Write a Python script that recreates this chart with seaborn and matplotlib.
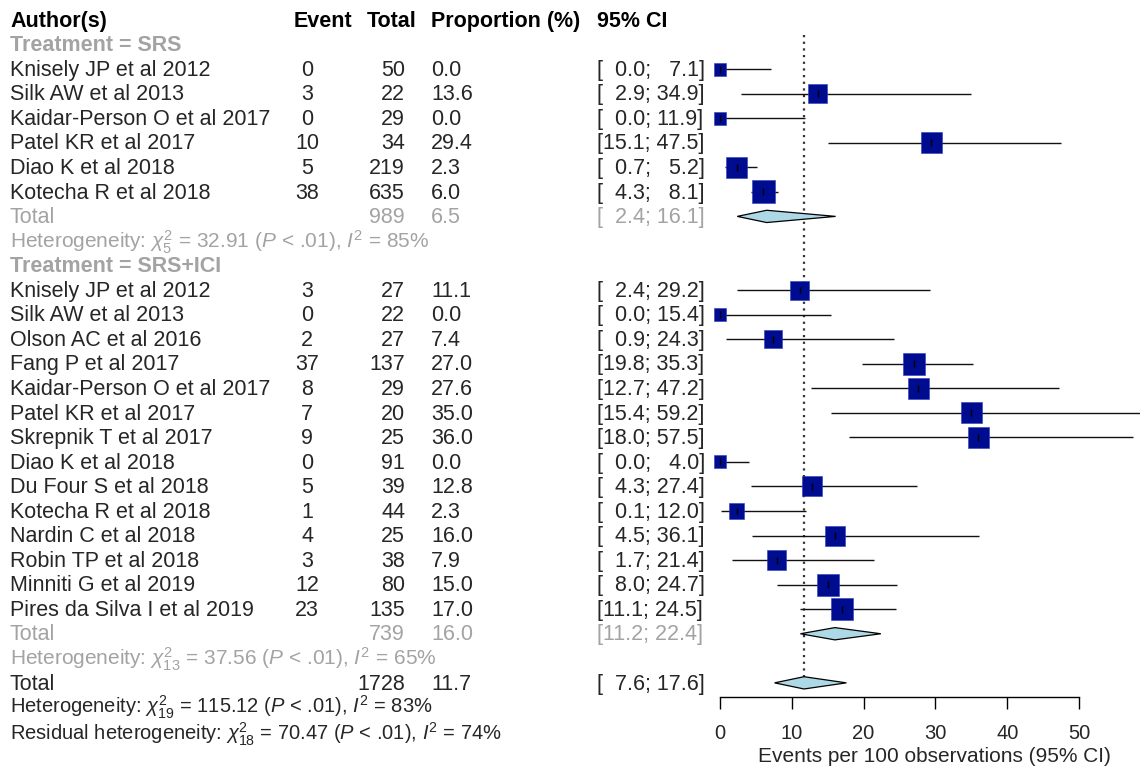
import matplotlib
matplotlib.use("Agg")
import matplotlib.pyplot as plt
import matplotlib.transforms as mtransforms
import seaborn as sns
import pandas as pd

# study level data
studies = ["Knisely JP et al 2012", "Silk AW et al 2013", "Kaidar-Person O et al 2017",
           "Patel KR et al 2017", "Diao K et al 2018", "Kotecha R et al 2018",
           "Knisely JP et al 2012", "Silk AW et al 2013", "Olson AC et al 2016",
           "Fang P et al 2017", "Kaidar-Person O et al 2017", "Patel KR et al 2017",
           "Skrepnik T et al 2017", "Diao K et al 2018", "Du Four S et al 2018",
           "Kotecha R et al 2018", "Nardin C et al 2018", "Robin TP et al 2018",
           "Minniti G et al 2019", "Pires da Silva I et al 2019"]
groups = ["SRS"] * 6 + ["SRS+ICI"] * 14
events = [0, 3, 0, 10, 5, 38, 3, 0, 2, 37, 8, 7, 9, 0, 5, 1, 4, 3, 12, 23]
totals = [50, 22, 29, 34, 219, 635, 27, 22, 27, 137, 29, 20, 25, 91, 39, 44, 25, 38, 80, 135]
props = [0.0, 13.6, 0.0, 29.4, 2.3, 6.0, 11.1, 0.0, 7.4, 27.0, 27.6, 35.0, 36.0, 0.0,
         12.8, 2.3, 16.0, 7.9, 15.0, 17.0]
lowers = [0.0, 2.9, 0.0, 15.1, 0.7, 4.3, 2.4, 0.0, 0.9, 19.8, 12.7, 15.4, 18.0, 0.0,
          4.3, 0.1, 4.5, 1.7, 8.0, 11.1]
uppers = [7.1, 34.9, 11.9, 47.5, 5.2, 8.1, 29.2, 15.4, 24.3, 35.3, 47.2, 59.2, 57.5, 4.0,
          27.4, 12.0, 36.1, 21.4, 24.7, 24.5]
# random effects weights (%) estimated from the square sizes
weights = [2.3, 4.9, 2.3, 6.0, 6.0, 7.2, 4.9, 2.3, 4.4, 6.6, 6.0, 6.0, 6.0, 2.3,
           5.5, 3.3, 5.5, 5.2, 6.6, 6.6]

# subgroup summaries
sub_names = ["SRS", "SRS+ICI"]
sub_totals = [989, 739]
sub_props = [6.5, 16.0]
sub_lowers = [2.4, 11.2]
sub_uppers = [16.1, 22.4]
sub_chi2 = [32.91, 37.56]
sub_df = [5, 13]
sub_i2 = [85, 65]

# overall
all_total = 1728
all_prop = 11.7
all_lower = 7.6
all_upper = 17.6
het_chi2, het_df, het_i2 = 115.12, 19, 83
res_chi2, res_df, res_i2 = 70.47, 18, 74

sns.set_theme(style="white")
plt.rcParams["font.family"] = ["Liberation Sans", "DejaVu Sans"]
plt.rcParams["mathtext.fontset"] = "custom"
plt.rcParams["mathtext.rm"] = "Liberation Sans"
plt.rcParams["mathtext.it"] = "Liberation Sans:italic"
plt.rcParams["mathtext.bf"] = "Liberation Sans:bold"

W, H = 1140, 768
fig = plt.figure(figsize=(W / 100, H / 100), dpi=100)

# row geometry in pixels
row0, drow = 20, 24.55
px0, pxscale = 720, 7.18          # x value 0 at pixel 720, 7.18 px per unit
ax_left_px, ax_right_px, ax_bottom_px = 700, 1140, 697
ax = fig.add_axes([ax_left_px / W, 1 - ax_bottom_px / H,
                   (ax_right_px - ax_left_px) / W, ax_bottom_px / H])
ax.set_xlim((ax_left_px - px0) / pxscale, (ax_right_px - px0) / pxscale)
ax.set_ylim((ax_bottom_px - row0) / drow, -row0 / drow)

tr = mtransforms.blended_transform_factory(fig.transFigure, ax.transData)
FS = 15.5
FS_HET = 14.5
GRAY = "#a3a3a3"
BLUE = "#000c8f"


def fx(px):
    return px / W


def ci_str(lo, hi):
    return f"[{lo:4.1f}; {hi:4.1f}]".replace(" ", "\u2007").replace(";\u2007", "; ")


def txt(px, row, s, **kw):
    kw.setdefault("fontsize", FS)
    kw.setdefault("va", "center")
    ax.text(fx(px), row + 0.05, s, transform=tr, **kw)


# header
for px, s in [(10, "Author(s)"), (294, "Event"), (367, "Total"),
              (431, "Proportion (%)"), (597, "95% CI")]:
    txt(px, 0, s, fontweight="bold", color="black")

df = pd.DataFrame({"study": studies, "group": groups, "event": events, "total": totals,
                   "prop": props, "lo": lowers, "hi": uppers, "w": weights})

rows = []
row = 1
sum_rows = []
for gi, g in enumerate(sub_names):
    txt(10, row, f"Treatment = {g}", fontweight="bold", color=GRAY)
    row += 1
    sub = df[df["group"] == g]
    for _, r in sub.iterrows():
        txt(10, row, r["study"])
        txt(307, row, str(r["event"]), ha="center")
        txt(405, row, str(r["total"]), ha="right")
        txt(431, row, f"{r['prop']:.1f}")
        txt(597, row, ci_str(r["lo"], r["hi"]))
        rows.append(row)
        row += 1
    txt(10, row, "Total", color=GRAY)
    txt(405, row, str(sub_totals[gi]), ha="right", color=GRAY)
    txt(431, row, f"{sub_props[gi]:.1f}", color=GRAY)
    txt(597, row, ci_str(sub_lowers[gi], sub_uppers[gi]), color=GRAY)
    sum_rows.append(row)
    row += 1
    txt(10, row, rf"Heterogeneity: $\chi^2_{{{sub_df[gi]}}}$ = {sub_chi2[gi]:.2f} ($P$ < .01), $I^2$ = {sub_i2[gi]}%",
        color=GRAY, fontsize=FS_HET + 0.5)
    row += 1

total_row = row
txt(10, row, "Total")
txt(405, row, str(all_total), ha="right")
txt(431, row, f"{all_prop:.1f}")
txt(597, row, ci_str(all_lower, all_upper))
txt(10, row + 0.94, rf"Heterogeneity: $\chi^2_{{{het_df}}}$ = {het_chi2:.2f} ($P$ < .01), $I^2$ = {het_i2}%",
    fontsize=FS_HET)
txt(10, row + 2.06, rf"Residual heterogeneity: $\chi^2_{{{res_df}}}$ = {res_chi2:.2f} ($P$ < .01), $I^2$ = {res_i2}%",
    fontsize=FS_HET)

df["row"] = rows

# reference line at the overall estimate
ax.vlines(all_prop, 0.6, total_row - 0.25, color="#333333", lw=1.6,
          linestyles=(0, (1, 2)), zorder=1)

# confidence intervals
ax.hlines(df["row"], df["lo"], df["hi"], color="#111111", lw=1.0, zorder=2)

# squares, area proportional to weight
side_pt = (df["w"] ** 0.5) * 8.56 * 0.72
sns.scatterplot(data=df, x="prop", y="row", marker="s", s=side_pt ** 2, color=BLUE,
                edgecolor="#2a3cc0", linewidth=0.4, ax=ax, zorder=3, legend=False)
ax.vlines(df["prop"], df["row"] - 0.14, df["row"] + 0.14, color="black", lw=1.0, zorder=4)

# diamonds
dh = 0.25
for lo, p, hi, r in zip(sub_lowers + [all_lower], sub_props + [all_prop],
                        sub_uppers + [all_upper], sum_rows + [total_row]):
    ax.fill([lo, p, hi, p], [r, r - dh, r, r + dh], facecolor="#add8e6",
            edgecolor="black", lw=0.9, zorder=3)

# axis
for s in ["left", "right", "top"]:
    ax.spines[s].set_visible(False)
ax.spines["bottom"].set_bounds(0, 50)
ax.spines["bottom"].set_color("black")
ax.spines["bottom"].set_linewidth(1.0)
ax.set_xticks([0, 10, 20, 30, 40, 50])
ax.set_yticks([])
ax.tick_params(axis="x", direction="out", length=8.5, width=1.0, color="black",
               labelsize=14.5, pad=11, bottom=True)
ax.set_xlabel("")
ax.set_ylabel("")
fig.text(fx(934), 1 - 757 / H, "Events per 100 observations (95% CI)", ha="center",
         va="center", fontsize=15)

fig.savefig("out.png", dpi=100)
